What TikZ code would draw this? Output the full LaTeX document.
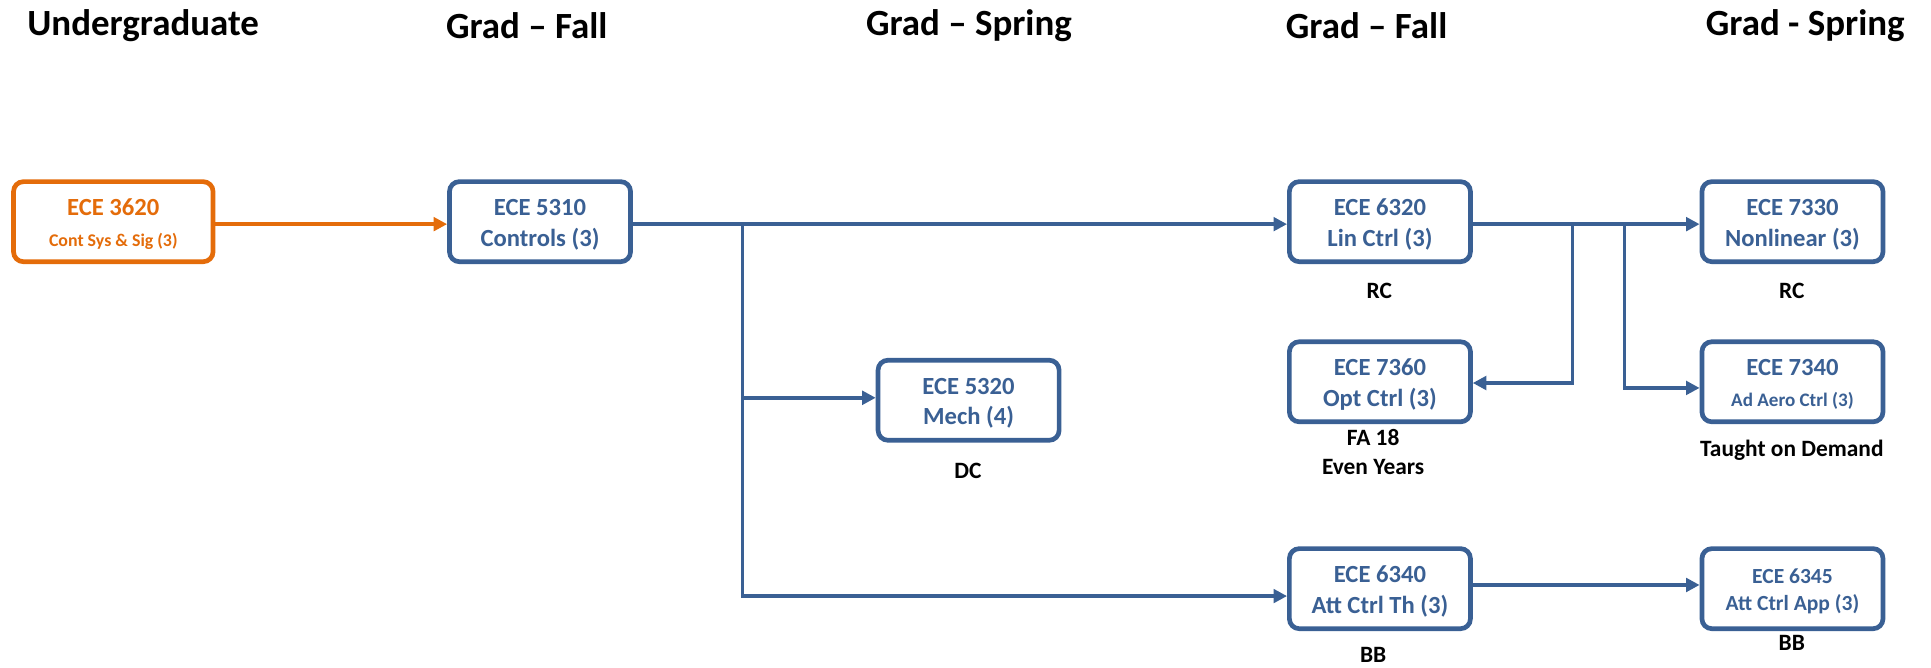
\documentclass[tikz,border=0pt]{standalone}
\usepackage{fontspec}
\setmainfont{Carlito}
\usetikzlibrary{arrows.meta}
\definecolor{cblue}{RGB}{58,96,148}
\definecolor{corange}{RGB}{228,108,10}
\newcommand{\bt}[2]{\raisebox{-2.5pt}[\height][\depth]{\begin{tabular}{@{}c@{}}#1\\#2\end{tabular}}}
\begin{document}
\begin{tikzpicture}[x=1pt,y=-1pt,
  box/.style={draw=cblue, line width=3.8pt, rounded corners=8pt, fill=white,
    minimum width=147pt, minimum height=65pt, text=cblue,
    font=\fontsize{20}{25}\selectfont\bfseries, inner sep=0pt},
  obox/.style={box, draw=corange, text=corange, minimum width=162pt},
  conn/.style={draw=cblue, line width=2.8pt, -{Triangle[length=11pt,width=11pt]}},
  oconn/.style={conn, draw=corange, fill=corange},
  head/.style={anchor=west, font=\fontsize{30}{36}\selectfont\bfseries, inner sep=0pt},
  lab/.style={font=\fontsize{19}{22}\selectfont\bfseries, inner sep=0pt}]
\useasboundingbox (0,0) rectangle (1568,542);
\node[head] (h1) at (22,21) {Undergraduate};
\node[head] (h2) at (362,21) {Grad -- Fall};
\node[head] (h3) at (703,21) {Grad -- Spring};
\node[head] (h4) at (1044,21) {Grad -- Fall};
\node[head] (h5) at (1385,21) {Grad - Spring};

\node[obox] (A) at (92,180) {\bt{ECE 3620}{\fontsize{14.5}{18}\selectfont Cont Sys \& Sig (3)}};
\node[box] (B) at (438.5,180) {\bt{ECE 5310}{Controls (3)}};
\node[box] (C) at (786.5,325) {\bt{ECE 5320}{Mech (4)}};
\node[box] (D) at (1120.5,180) {\bt{ECE 6320}{Lin Ctrl (3)}};
\node[box] (E) at (1120.5,310) {\bt{ECE 7360}{Opt Ctrl (3)}};
\node[box] (F) at (1455.5,180) {\bt{ECE 7330}{Nonlinear (3)}};
\node[box] (G) at (1455.5,310) {\bt{ECE 7340}{\fontsize{15.5}{20}\selectfont Ad Aero Ctrl (3)}};
\node[box] (H) at (1120.5,478) {\bt{ECE 6340}{Att Ctrl Th (3)}};
\node[box] (I) at (1455.5,478) {\fontsize{17.5}{22}\selectfont\bt{ECE 6345}{Att Ctrl App (3)}};

\node[lab] (lD) at (1120,236) {RC};
\node[lab] (lF) at (1455,236) {RC};
\node[lab] (lE1) at (1115,355) {FA 18};
\node[lab] (lE2) at (1115,379) {Even Years};
\node[lab] (lG) at (1455,366) {Taught on Demand};
\node[lab] (lC) at (786,382) {DC};
\node[lab] (lH) at (1115,532) {BB};
\node[lab] (lI) at (1455,522) {BB};

\draw[oconn] ([yshift=-2pt]A.east) -- ([yshift=-2pt]B.west);
\draw[conn] ([yshift=-2pt]B.east) -- ([yshift=-2pt]D.west);
\coordinate (j1) at (603,182);
\draw[conn] (j1) |- ([yshift=2pt]C.west);
\draw[conn] (j1) |- ([yshift=-6pt]H.west);
\draw[conn] ([yshift=-2pt]D.east) -- ([yshift=-2pt]F.west);
\coordinate (j2) at (1277,182);
\coordinate (j3) at (1319,182);
\draw[conn] (j2) |- ([yshift=-1pt]E.east);
\draw[conn] (j3) |- ([yshift=-5pt]G.west);
\draw[conn] ([yshift=3pt]H.east) -- ([yshift=3pt]I.west);
\end{tikzpicture}
\end{document}
